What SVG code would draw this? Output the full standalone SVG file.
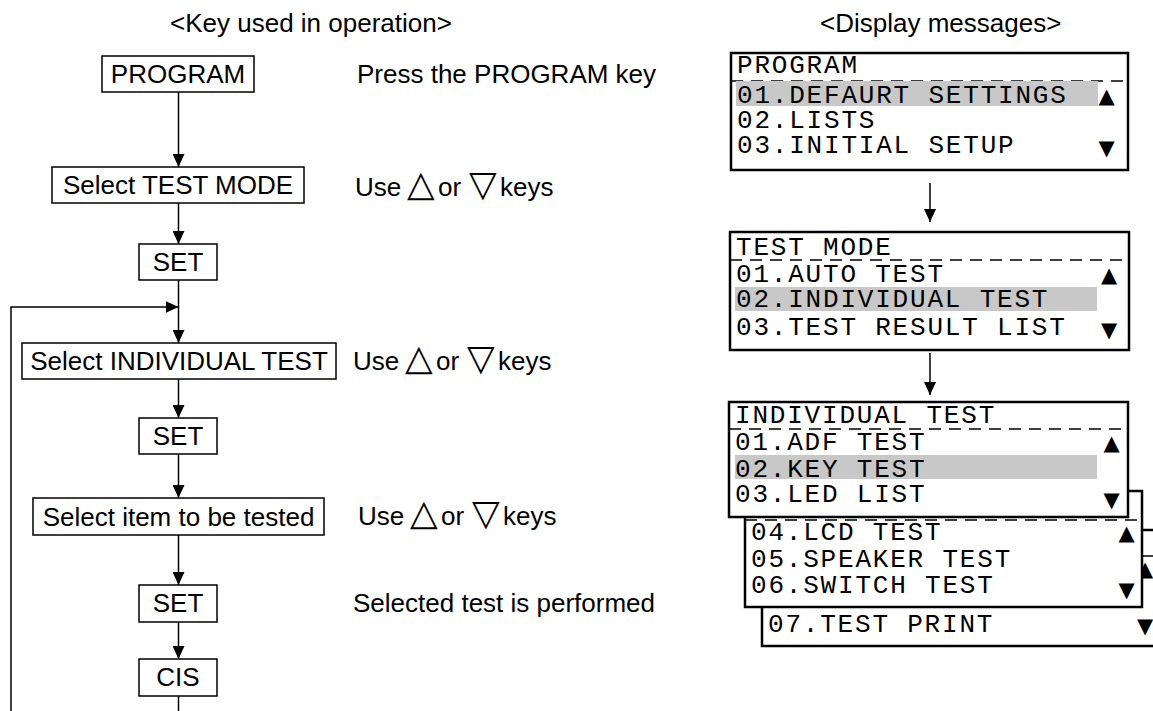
<svg xmlns="http://www.w3.org/2000/svg" width="1153" height="711" viewBox="0 0 1153 711">
<defs>
<marker id="ah" markerWidth="13" markerHeight="12" refX="13" refY="6" orient="auto" markerUnits="userSpaceOnUse"><path d="M0,0 L13,6 L0,12 Z" fill="#000"/></marker>
<style>
.k{font-family:"Liberation Sans",Arial,sans-serif;font-size:26px;fill:#000}
.mid{text-anchor:middle}
.box{fill:#fff;stroke:#000;stroke-width:1.5}
.lcd{fill:#fff;stroke:#000;stroke-width:2.5}
.m{font-family:"Liberation Mono","Courier New",monospace;font-size:26px;letter-spacing:1.8px;fill:#000}
.hl{fill:#c8c8c8}
.dash{stroke:#000;stroke-width:1.3;stroke-dasharray:12 8;fill:none}
.tri{font-family:"DejaVu Sans",sans-serif;font-size:21px;text-anchor:middle;fill:#000}
.otri{font-family:"DejaVu Sans",sans-serif;font-size:36px}
.c{stroke:#000;stroke-width:1.5;fill:none}
</style>
</defs>
<rect width="1153" height="711" fill="#fff"/>

<text class="k" x="170" y="32">&lt;Key used in operation&gt;</text>
<text class="k" x="820" y="32">&lt;Display messages&gt;</text>

<g id="connectors">
<line class="c" x1="178.5" y1="92" x2="178.5" y2="167" marker-end="url(#ah)"/>
<line class="c" x1="178.5" y1="203" x2="178.5" y2="244" marker-end="url(#ah)"/>
<line class="c" x1="178.5" y1="280" x2="178.5" y2="343" marker-end="url(#ah)"/>
<polyline class="c" points="11,711 11,307 178.5,307" marker-end="url(#ah)"/>
<line class="c" x1="178.5" y1="379" x2="178.5" y2="418" marker-end="url(#ah)"/>
<line class="c" x1="178.5" y1="454" x2="178.5" y2="498" marker-end="url(#ah)"/>
<line class="c" x1="178.5" y1="535" x2="178.5" y2="585" marker-end="url(#ah)"/>
<line class="c" x1="178.5" y1="622" x2="178.5" y2="659" marker-end="url(#ah)"/>
<line class="c" x1="178.5" y1="696" x2="178.5" y2="711"/>
<line class="c" x1="930" y1="183" x2="930" y2="222" marker-end="url(#ah)"/>
<line class="c" x1="930" y1="353" x2="930" y2="395" marker-end="url(#ah)"/>
</g>

<g id="n-program"><rect class="box" x="102" y="56" width="152" height="36"/><text class="k mid" x="178" y="83">PROGRAM</text></g>
<g id="n-select-test-mode"><rect class="box" x="52" y="167" width="252" height="36"/><text class="k mid" x="178" y="194">Select TEST MODE</text></g>
<g id="n-set1"><rect class="box" x="139" y="244" width="78" height="36"/><text class="k mid" x="178" y="271">SET</text></g>
<g id="n-select-individual"><rect class="box" x="22" y="343" width="314" height="36"/><text class="k mid" x="179" y="370">Select INDIVIDUAL TEST</text></g>
<g id="n-set2"><rect class="box" x="139" y="418" width="78" height="36"/><text class="k mid" x="178" y="445">SET</text></g>
<g id="n-select-item"><rect class="box" x="33" y="498" width="291" height="37"/><text class="k mid" x="178.5" y="526">Select item to be tested</text></g>
<g id="n-set3"><rect class="box" x="139" y="585" width="78" height="37"/><text class="k mid" x="178" y="612">SET</text></g>
<g id="n-cis"><rect class="box" x="139" y="659" width="78" height="37"/><text class="k mid" x="178" y="686">CIS</text></g>

<g id="notes">
<text class="k" x="357" y="83">Press the PROGRAM key</text>
<text class="k" x="355" y="196">Use <tspan class="otri" x="407">△</tspan> <tspan x="438">or</tspan> <tspan class="otri" x="469">▽</tspan> <tspan x="500">keys</tspan></text>
<text class="k" x="353" y="370">Use <tspan class="otri" x="405">△</tspan> <tspan x="436">or</tspan> <tspan class="otri" x="467">▽</tspan> <tspan x="498">keys</tspan></text>
<text class="k" x="358" y="525">Use <tspan class="otri" x="410">△</tspan> <tspan x="441">or</tspan> <tspan class="otri" x="472">▽</tspan> <tspan x="503">keys</tspan></text>
<text class="k" x="353" y="612">Selected test is performed</text>
</g>

<g id="lcd-program">
<rect class="lcd" x="731" y="53" width="397" height="117"/>
<line class="dash" x1="731" y1="81" x2="1128" y2="81"/>
<rect class="hl" x="736" y="81" width="362" height="25"/>
<text class="m" x="737" y="73">PROGRAM</text>
<text class="m" x="737" y="103">01.DEFAURT SETTINGS</text>
<text class="m" x="737" y="128">02.LISTS</text>
<text class="m" x="737" y="153">03.INITIAL SETUP</text>
<text class="tri" x="1106.5" y="103">▲</text>
<text class="tri" x="1106.5" y="155">▼</text>
</g>

<g id="lcd-test-mode">
<rect class="lcd" x="730" y="232" width="399" height="118"/>
<line class="dash" x1="730" y1="260" x2="1129" y2="260"/>
<rect class="hl" x="735" y="287" width="362" height="24"/>
<text class="m" x="736" y="255">TEST MODE</text>
<text class="m" x="736" y="282">01.AUTO TEST</text>
<text class="m" x="736" y="307">02.INDIVIDUAL TEST</text>
<text class="m" x="736" y="335">03.TEST RESULT LIST</text>
<text class="tri" x="1109" y="282">▲</text>
<text class="tri" x="1109" y="337">▼</text>
</g>

<g id="lcd-page3">
<rect class="lcd" x="762" y="530" width="403" height="116"/>
<line class="dash" x1="762" y1="556" x2="1165" y2="556"/>
<text class="m" x="768" y="632">07.TEST PRINT</text>
<text class="tri" x="1145" y="576">▲</text>
<text class="tri" x="1145" y="633">▼</text>
</g>

<g id="lcd-page2">
<rect class="lcd" x="745" y="491" width="397" height="116"/>
<line class="dash" x1="745" y1="520" x2="1142" y2="520"/>
<text class="m" x="751" y="540">04.LCD TEST</text>
<text class="m" x="751" y="567">05.SPEAKER TEST</text>
<text class="m" x="751" y="593">06.SWITCH TEST</text>
<text class="tri" x="1126.5" y="540">▲</text>
<text class="tri" x="1126.5" y="597">▼</text>
</g>

<g id="lcd-individual">
<rect class="lcd" x="729" y="402" width="399" height="115"/>
<line class="dash" x1="729" y1="429" x2="1128" y2="429"/>
<rect class="hl" x="735" y="455" width="362" height="24"/>
<text class="m" x="735" y="423">INDIVIDUAL TEST</text>
<text class="m" x="735" y="450">01.ADF TEST</text>
<text class="m" x="735" y="477">02.KEY TEST</text>
<text class="m" x="735" y="502">03.LED LIST</text>
<text class="tri" x="1111.5" y="450">▲</text>
<text class="tri" x="1111.5" y="507">▼</text>
</g>
</svg>
